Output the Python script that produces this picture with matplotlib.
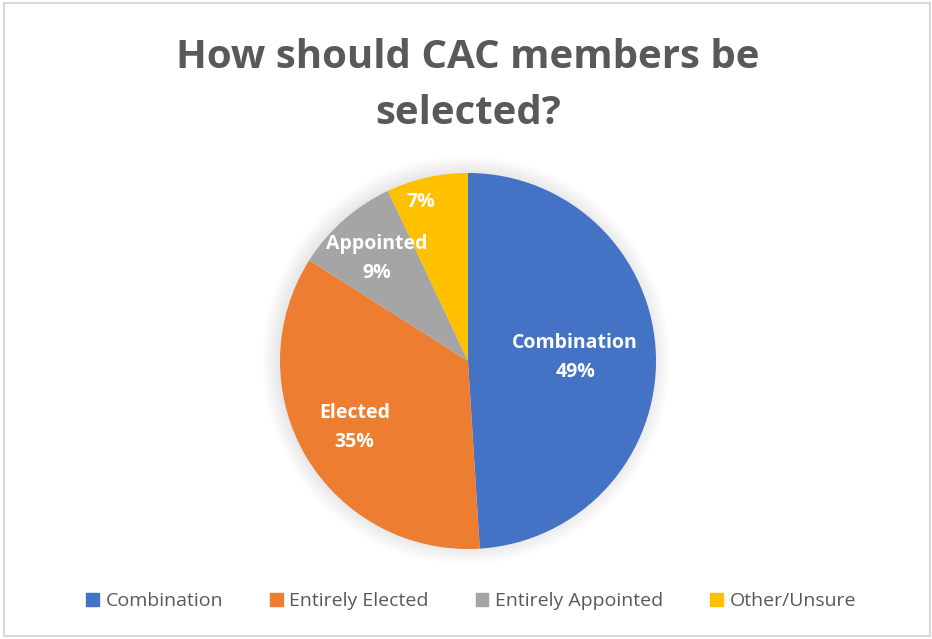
import numpy as np
import matplotlib
matplotlib.use("Agg")
import matplotlib.pyplot as plt
from matplotlib.patches import Rectangle, Circle

# data
categories = ["Combination", "Entirely Elected", "Entirely Appointed", "Other/Unsure"]
short_labels = ["Combination", "Elected", "Appointed", ""]
values = [49, 35, 9, 7]
colors = ["#4472C4", "#ED7D31", "#A5A5A5", "#FFC000"]
label_dist = [0.57, 0.70, 0.73, 0.88]
label_shift = [0, 0, 0, 4]  # degrees, nudge label along the arc

plt.rcParams['font.family'] = ['Open Sans', 'DejaVu Sans']

W, H = 932, 639
fig = plt.figure(figsize=(W / 100, H / 100), dpi=100)
fig.patch.set_facecolor("white")

# chart border
fig.add_artist(Rectangle((4 / W, 3 / H), 926 / W, 633 / H, transform=fig.transFigure,
                         fill=False, edgecolor="#D9D9D9", linewidth=1.5))

# title
fig.text(468 / W, 1 - 57 / H, "How should CAC members be", ha="center", va="center",
         fontsize=29, fontweight="bold", color="#595959")
fig.text(468 / W, 1 - 114 / H, "selected?", ha="center", va="center",
         fontsize=29, fontweight="bold", color="#595959")

# pie axes
cx, cy, r = 468, 361, 188
ax = fig.add_axes([(cx - r * 1.3) / W, (H - cy - r * 1.3) / H, 2.6 * r / W, 2.6 * r / H])

wedges, _ = ax.pie(values, colors=colors, startangle=90, counterclock=False,
                   radius=1.0, wedgeprops=dict(linewidth=0))
for w in wedges:
    w.set_zorder(2)
ax.set_xlim(-1.3, 1.3)
ax.set_ylim(-1.3, 1.3)
ax.set_aspect("equal")
ax.axis("off")

# soft shadow
for k in range(8):
    ax.add_patch(Circle((-0.01, 0.005), 1.0 + 0.012 * k, color="black",
                        alpha=0.010, linewidth=0, zorder=0))

total = sum(values)
for w, lab, v, d, s in zip(wedges, short_labels, values, label_dist, label_shift):
    ang = np.deg2rad((w.theta1 + w.theta2) / 2 + s)
    x, y = d * np.cos(ang), d * np.sin(ang)
    txt = f"{lab}\n{round(100 * v / total)}%" if lab else f"{round(100 * v / total)}%"
    ax.text(x, y, txt, ha="center", va="center", color="white", fontsize=14,
            fontweight="bold", linespacing=1.6, zorder=3)

# legend
handles = [Rectangle((0, 0), 1, 1, color=c) for c in colors]
fig.legend(handles, categories, loc="center", bbox_to_anchor=(471 / W, 1 - 601 / H),
           ncol=4, frameon=False, fontsize=14, labelcolor="#595959",
           handlelength=0.65, handleheight=0.65, handletextpad=0.35, columnspacing=2.4)

fig.savefig("out.png", dpi=100, facecolor="white")
